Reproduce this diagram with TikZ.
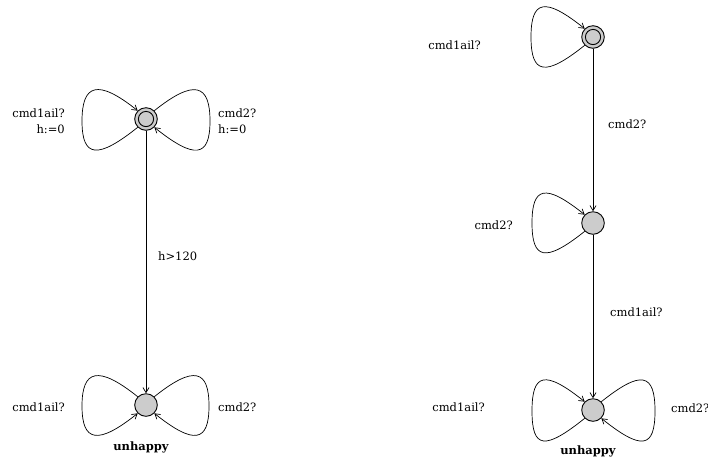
\documentclass[tikz,border=0pt]{standalone}
\usepackage{fontspec}
\setmainfont{DejaVu Serif}
\usetikzlibrary{arrows.meta,calc}
\begin{document}
\begin{tikzpicture}[x=1pt,y=-1pt,
  loc/.style={circle,draw,fill=black!20,minimum size=22.6pt,inner sep=0pt,line width=0.9pt},
  initloc/.style={loc,path picture={\draw[line width=0.9pt] (path picture bounding box.center) circle (7.6pt);}},
  trans/.style={line width=0.7pt,-{Straight Barb[length=5pt,width=6pt]}},
  lbl/.style={font=\fontsize{11.5}{13}\selectfont,inner sep=0pt},
  locname/.style={lbl,font=\fontsize{11.5}{13}\selectfont\bfseries}]
\useasboundingbox (0,0) rectangle (708,459);

% ---- first automaton ----
\node[initloc] (A) at (146,119) {};
\node[loc]     (B) at (146,405) {};
\node[locname] (Bn) at (141,447) {unhappy};

\draw[trans] (A.225) .. controls +(-40,32) and +(0,37) .. ($(A)+(-64,2)$)
             .. controls +(0,-37) and +(-40,-32) .. (A.135);
\draw[trans] (A.45) .. controls +(40,-32) and +(0,-37) .. ($(A)+(64,2)$)
             .. controls +(0,37) and +(40,32) .. (A.315);
\draw[trans] (A) -- (B);
\draw[trans] (B.135) .. controls +(-40,-32) and +(0,-36) .. ($(B)+(-64,1)$)
             .. controls +(0,36) and +(-40,32) .. (B.225);
\draw[trans] (B.45) .. controls +(40,-32) and +(0,-36) .. ($(B)+(63,1)$)
             .. controls +(0,36) and +(40,32) .. (B.315);

\node[lbl,anchor=east] (l1) at (65,113) {cmd1ail?};
\node[lbl,anchor=east] (l2) at (65,129) {h:=0};
\node[lbl,anchor=west] (l3) at (218,113) {cmd2?};
\node[lbl,anchor=west] (l4) at (218,129) {h:=0};
\node[lbl,anchor=west] (l5) at (158,256) {h>120};
\node[lbl,anchor=east] (l6) at (65,407) {cmd1ail?};
\node[lbl,anchor=west] (l7) at (218,407) {cmd2?};

% ---- second automaton ----
\node[initloc] (C) at (593,37) {};
\node[loc]     (D) at (593,223) {};
\node[loc]     (E) at (593,410) {};
\node[locname] (En) at (588,451) {unhappy};

\draw[trans] (C.225) .. controls +(-40,32) and +(0,37) .. ($(C)+(-62,0)$)
             .. controls +(0,-37) and +(-40,-32) .. (C.135);
\draw[trans] (C) -- (D);
\draw[trans] (D.225) .. controls +(-40,32) and +(0,36) .. ($(D)+(-61,0)$)
             .. controls +(0,-36) and +(-40,-32) .. (D.135);
\draw[trans] (D) -- (E);
\draw[trans] (E.225) .. controls +(-40,32) and +(0,38) .. ($(E)+(-61,1)$)
             .. controls +(0,-38) and +(-40,-32) .. (E.135);
\draw[trans] (E.45) .. controls +(40,-32) and +(0,-38) .. ($(E)+(62,1)$)
             .. controls +(0,38) and +(40,32) .. (E.315);

\node[lbl,anchor=east] (m1) at (481,45) {cmd1ail?};
\node[lbl,anchor=west] (m2) at (608,124) {cmd2?};
\node[lbl,anchor=east] (m3) at (513,225) {cmd2?};
\node[lbl,anchor=west] (m4) at (610,312) {cmd1ail?};
\node[lbl,anchor=east] (m5) at (485,407) {cmd1ail?};
\node[lbl,anchor=west] (m6) at (671,408) {cmd2?};
\end{tikzpicture}
\end{document}
